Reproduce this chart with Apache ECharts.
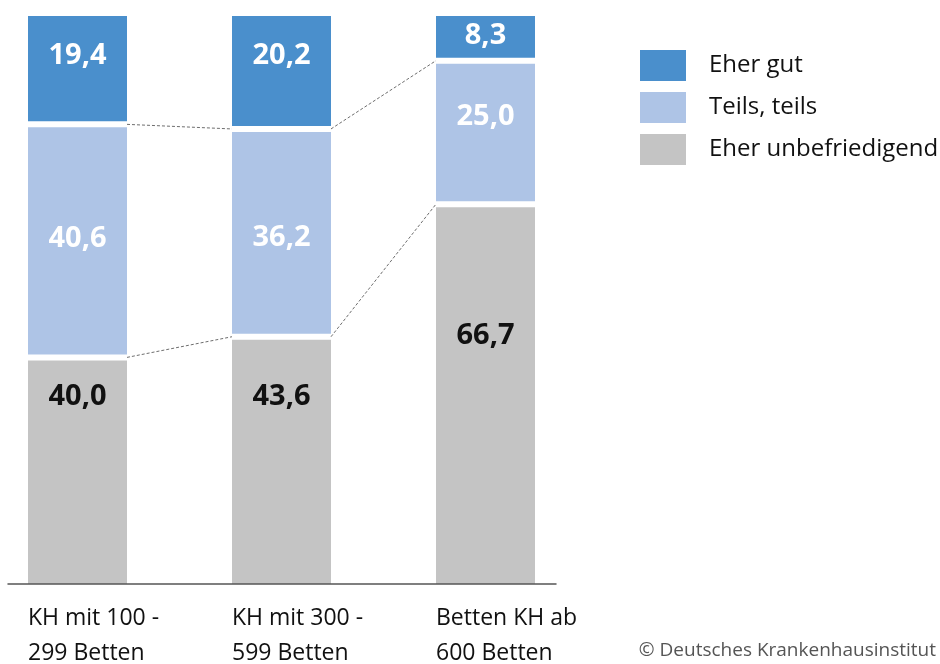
<!DOCTYPE html>
<html>
<head>
<meta charset="utf-8">
<script src="https://cdn.jsdelivr.net/npm/echarts@6/dist/echarts.min.js"></script>
<style>
  html, body { margin: 0; padding: 0; background: #fff; }
  #chart { width: 940px; height: 664px; }
</style>
</head>
<body>
<div id="chart"></div>
<script>
// Hospital size classes and the share of answers (percent) per rating
const categories = ['KH mit 100 -\n299 Betten', 'KH mit 300 -\n599 Betten', 'Betten KH ab\n600 Betten'];
const seriesNames = ['Eher gut', 'Teils, teils', 'Eher unbefriedigend'];
const eherGut = [19.4, 20.2, 8.3];
const teilsTeils = [40.6, 36.2, 25.0];
const eherUnbefriedigend = [40.0, 43.6, 66.7];
const sourceNote = '\u00A9 Deutsches Krankenhausinstitut';

// Vertical nudges of the value labels away from the segment centre (px)
const labelShift = {
  gut: [-13, -15, -1],
  teils: [-2, 5, -16],
  unbef: [-75, -65, -60]
};

const FONT = '"Open Sans", "DejaVu Sans", sans-serif';
const COLORS = { gut: '#4a8fcc', teils: '#aec4e6', unbef: '#c4c4c4' };
const STEP_PX = 204;          // distance between bar centres
const FIRST_CENTER = 77.5;    // x of the first bar centre
const VISIBLE_BAR_PX = 99;    // painted bar width
const BORDER_PX = 3;          // white separator drawn inside each segment
const HALF = (VISIBLE_BAR_PX / 2) / STEP_PX;  // half bar width in category units

const fmt = v => v.toFixed(1).replace('.', ',');

function barSeries(name, values, color, shifts, textColor) {
  return {
    name: name,
    type: 'bar',
    stack: 'total',
    xAxisIndex: 0,
    yAxisIndex: 0,
    clip: false,
    barWidth: VISIBLE_BAR_PX + 2 * BORDER_PX,
    itemStyle: { color: color, borderColor: '#ffffff', borderWidth: BORDER_PX },
    emphasis: { disabled: true },
    data: values.map((v, i) => ({
      value: v,
      label: { offset: [0, shifts[i]] }
    })),
    label: {
      show: true,
      position: 'inside',
      formatter: p => fmt(p.value),
      fontFamily: FONT,
      fontWeight: 'bold',
      fontSize: 29,
      color: textColor
    },
    z: 2
  };
}

// Dotted connectors between neighbouring bars at the edges of the middle segment
function connector(levels) {
  const data = [];
  for (let i = 0; i < levels.length - 1; i++) {
    if (i > 0) data.push([i, '-']);
    data.push([i + HALF, levels[i]]);
    data.push([i + 1 - HALF, levels[i + 1]]);
  }
  return {
    type: 'line',
    xAxisIndex: 1,
    yAxisIndex: 0,
    data: data,
    symbol: 'none',
    silent: true,
    clip: false,
    connectNulls: false,
    lineStyle: { color: '#6e6e6e', width: 1, type: [3, 2] },
    z: 4
  };
}

const lowerEdge = eherUnbefriedigend.slice();
const upperEdge = eherUnbefriedigend.map((v, i) => v + teilsTeils[i]);

const chart = echarts.init(document.getElementById('chart'), null, { renderer: 'canvas' });

chart.setOption({
  animation: false,
  backgroundColor: '#ffffff',
  textStyle: { fontFamily: FONT },
  title: {
    text: sourceNote,
    right: 4,
    top: 641,
    padding: 0,
    textStyle: { fontFamily: FONT, fontSize: 19, fontWeight: 'normal', color: '#555555' }
  },
  legend: {
    data: seriesNames,
    orient: 'vertical',
    left: 640,
    top: 50,
    padding: 0,
    itemWidth: 46,
    itemHeight: 31,
    itemGap: 11,
    icon: 'rect',
    itemStyle: { borderWidth: 0 },
    selectedMode: false,
    textStyle: { fontFamily: FONT, fontSize: 24, color: '#111111', padding: [0, 0, 0, 18] }
  },
  grid: [
    {
      left: FIRST_CENTER,
      width: (categories.length - 1) * STEP_PX,
      top: 13,
      bottom: 77,
      outerBoundsMode: 'none'
    },
    { left: 8, width: 548, top: 13, bottom: 80, outerBoundsMode: 'none' }
  ],
  xAxis: [
    {
      type: 'category',
      gridIndex: 0,
      boundaryGap: false,
      data: categories,
      axisLine: { show: false },
      axisTick: { show: false },
      splitLine: { show: false },
      axisLabel: {
        interval: 0,
        margin: 14,
        align: 'left',
        padding: [0, 0, 0, -VISIBLE_BAR_PX / 2],
        fontFamily: FONT,
        fontSize: 23,
        lineHeight: 35,
        color: '#111111'
      }
    },
    {
      type: 'value',
      gridIndex: 0,
      min: 0,
      max: categories.length - 1,
      show: false
    },
    {
      type: 'value',
      gridIndex: 1,
      min: 0,
      max: 1,
      z: 6,
      axisLine: { show: true, lineStyle: { color: '#555555', width: 1.5 } },
      axisTick: { show: false },
      axisLabel: { show: false },
      splitLine: { show: false }
    }
  ],
  yAxis: [
    { type: 'value', gridIndex: 0, min: 0, max: 100, show: false },
    { type: 'value', gridIndex: 1, min: 0, max: 1, show: false }
  ],
  series: [
    barSeries(seriesNames[2], eherUnbefriedigend, COLORS.unbef, labelShift.unbef, '#111111'),
    barSeries(seriesNames[1], teilsTeils, COLORS.teils, labelShift.teils, '#ffffff'),
    barSeries(seriesNames[0], eherGut, COLORS.gut, labelShift.gut, '#ffffff'),
    connector(lowerEdge),
    connector(upperEdge)
  ]
});
</script>
</body>
</html>
